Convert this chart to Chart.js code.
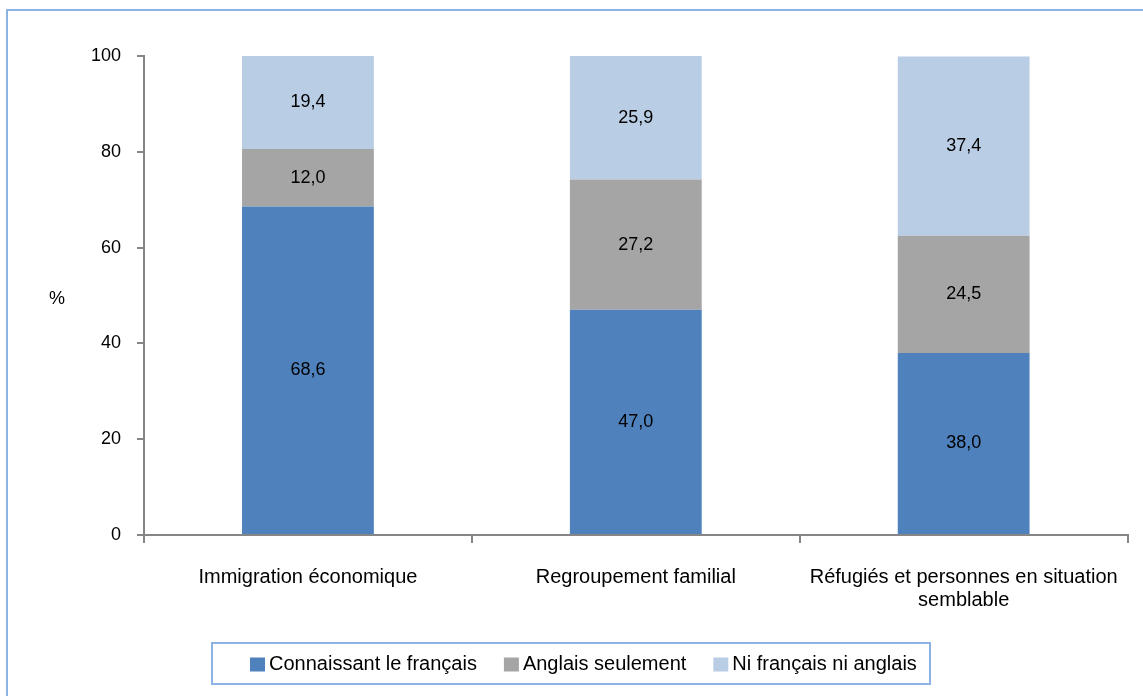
<!DOCTYPE html>
<html lang="fr">
<head>
<meta charset="utf-8">
<title>Connaissance des langues selon la catégorie d'immigration</title>
<script src="https://cdn.jsdelivr.net/npm/chart.js@4"></script>
<style>
  html, body { margin: 0; padding: 0; background: #ffffff; }
  #wrap { position: relative; width: 1143px; height: 696px; }
</style>
</head>
<body>
<div id="wrap"><canvas id="chart" width="1143" height="696"></canvas></div>
<script>
// Données du graphique
var categories = ['Immigration économique', 'Regroupement familial', ['Réfugiés et personnes en situation', 'semblable']];
var connaissantFrancais = [68.6, 47.0, 38.0];
var anglaisSeulement = [12.0, 27.2, 24.5];
var niFrancaisNiAnglais = [19.4, 25.9, 37.4];
var seriesNames = ['Connaissant le français', 'Anglais seulement', 'Ni français ni anglais'];
var yTicks = [0, 20, 40, 60, 80, 100];

var FONT = "'Liberation Sans', Arial, sans-serif";
var colors = ['#4f81bd', '#a5a5a5', '#b9cde5'];
var frameColor = '#8db3e2';
var axisColor = '#868686';

// Cadre extérieur, titre "%" et légende encadrée
var decorPlugin = {
  id: 'decor',
  beforeDraw: function(chart) {
    var c = chart.ctx;
    c.save();
    c.fillStyle = '#ffffff';
    c.fillRect(0, 0, chart.width, chart.height);
    c.strokeStyle = frameColor;
    c.lineWidth = 2;
    c.strokeRect(7, 10, 2000, 2000);
    c.restore();
  },
  afterDraw: function(chart) {
    var c = chart.ctx;
    c.save();
    // titre de l'axe y
    c.fillStyle = '#000000';
    c.font = '18px ' + FONT;
    c.textAlign = 'center';
    c.textBaseline = 'middle';
    c.fillText('%', 57, 299);

    // légende
    var boxL = 212, boxT = 643, boxW = 718, boxH = 41;
    c.strokeStyle = frameColor;
    c.lineWidth = 2;
    c.strokeRect(boxL, boxT, boxW, boxH);
    c.font = '20px ' + FONT;
    var sq = 15, gap = 4, spacing = 27;
    var x = 250;
    var cy = boxT + boxH / 2 + 1;
    c.textAlign = 'left';
    chart.data.datasets.forEach(function(ds) {
      c.fillStyle = ds.backgroundColor;
      c.fillRect(x, cy - 7, sq, 14);
      c.fillStyle = '#000000';
      c.fillText(ds.label, x + sq + gap, cy);
      x += sq + gap + c.measureText(ds.label).width + spacing;
    });
    c.restore();
  }
};

// Étiquettes de valeurs au centre de chaque segment
var valueLabels = {
  id: 'valueLabels',
  afterDatasetsDraw: function(chart) {
    var c = chart.ctx;
    c.save();
    c.font = '18px ' + FONT;
    c.fillStyle = '#000000';
    c.textAlign = 'center';
    c.textBaseline = 'middle';
    chart.data.datasets.forEach(function(ds, i) {
      var meta = chart.getDatasetMeta(i);
      meta.data.forEach(function(bar, j) {
        var txt = ds.data[j].toFixed(1).replace('.', ',');
        c.fillText(txt, bar.x, (bar.y + bar.base) / 2);
      });
    });
    c.restore();
  }
};

new Chart(document.getElementById('chart'), {
  type: 'bar',
  data: {
    labels: categories,
    datasets: [
      { label: seriesNames[0], data: connaissantFrancais, backgroundColor: colors[0] },
      { label: seriesNames[1], data: anglaisSeulement, backgroundColor: colors[1] },
      { label: seriesNames[2], data: niFrancaisNiAnglais, backgroundColor: colors[2] }
    ]
  },
  options: {
    responsive: false,
    animation: false,
    devicePixelRatio: 1,
    layout: { padding: { top: 56, right: 14, bottom: 0, left: 0 } },
    datasets: { bar: { categoryPercentage: 0.402, barPercentage: 1, borderWidth: 0 } },
    plugins: { legend: { display: false }, tooltip: { enabled: false } },
    scales: {
      x: {
        stacked: true,
        afterFit: function(scale) { scale.height = 161; },
        grid: { offset: true, drawOnChartArea: false, drawTicks: true, tickLength: 8, color: axisColor, lineWidth: 2 },
        border: { display: true, color: axisColor, width: 2 },
        ticks: { color: '#000000', padding: 23, maxRotation: 0, autoSkip: false,
                 font: { family: FONT, size: 20, lineHeight: 1.15 } }
      },
      y: {
        stacked: true,
        min: 0,
        max: 100,
        afterFit: function(scale) { scale.width = 144; },
        afterBuildTicks: function(scale) { scale.ticks = yTicks.map(function(v) { return { value: v }; }); },
        grid: { drawOnChartArea: false, drawTicks: true, tickLength: 7, color: axisColor, lineWidth: 2 },
        border: { display: true, color: axisColor, width: 2 },
        ticks: { color: '#000000', padding: 16, font: { family: FONT, size: 18 } }
      }
    }
  },
  plugins: [decorPlugin, valueLabels]
});
</script>
</body>
</html>
